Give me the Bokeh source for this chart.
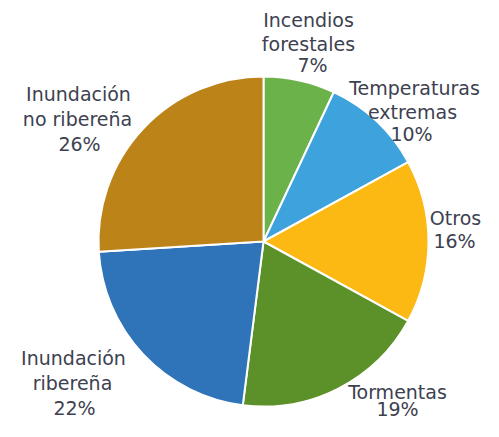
import numpy as np
from bokeh.plotting import figure
from bokeh.models import ColumnDataSource, Range1d
from bokeh.core.properties import value
from bokeh.embed import file_html
from bokeh.resources import INLINE

# ---- data ----
categories = ["Incendios forestales", "Temperaturas extremas", "Otros",
              "Tormentas", "Inundación ribereña", "Inundación no ribereña"]
percents = [7, 10, 16, 19, 22, 26]
colors = ["#6cb24a", "#3ea2dc", "#fdb913", "#5b9128", "#2f74b8", "#bc8418"]
label_lines = [["Incendios", "forestales", "7%"],
               ["Temperaturas", "extremas", "10%"],
               ["Otros", "16%"],
               ["Tormentas", "19%"],
               ["Inundación", "ribereña", "22%"],
               ["Inundación", "no ribereña", "26%"]]

# ---- layout (canvas pixels, y measured from top) ----
W, H = 483, 421
cx, cy_img, R = 263, 241, 165
label_x = [[308, 308, 312], [414, 412, 411], [455, 454],
           [397, 397], [73, 72, 74], [78, 77, 79]]
label_y = [[19, 43, 64], [87, 111, 133], [217, 240],
           [391, 408], [357, 382, 407], [93, 118, 143]]

vals = np.array(percents, dtype=float)
frac = vals / vals.sum()
cum = np.concatenate([[0], np.cumsum(frac)])
start = np.pi / 2 - 2 * np.pi * cum[:-1]
end = np.pi / 2 - 2 * np.pi * cum[1:]

src = ColumnDataSource(dict(x=[cx] * len(vals), y=[H - cy_img] * len(vals),
                            start=start, end=end, color=colors, cat=categories))

p = figure(width=W, height=H, output_backend="svg", toolbar_location=None,
           x_range=Range1d(0, W), y_range=Range1d(0, H), min_border=0)
p.axis.visible = False
p.grid.visible = False
p.outline_line_color = None
p.background_fill_color = "white"

p.wedge(x="x", y="y", radius=R, start_angle="start", end_angle="end",
        direction="clock", fill_color="color", line_color="white", line_width=2,
        source=src)

tx, ty, tt = [], [], []
for i, lines in enumerate(label_lines):
    for j, t in enumerate(lines):
        tx.append(label_x[i][j])
        ty.append(H - label_y[i][j])
        tt.append(t)
p.text(x=tx, y=ty, text=tt, text_align="center", text_baseline="middle",
       text_font=value("DejaVu Sans"), text_font_size="19px", text_color="#3d4150")

open("out.html", "w").write(file_html(p, INLINE))
